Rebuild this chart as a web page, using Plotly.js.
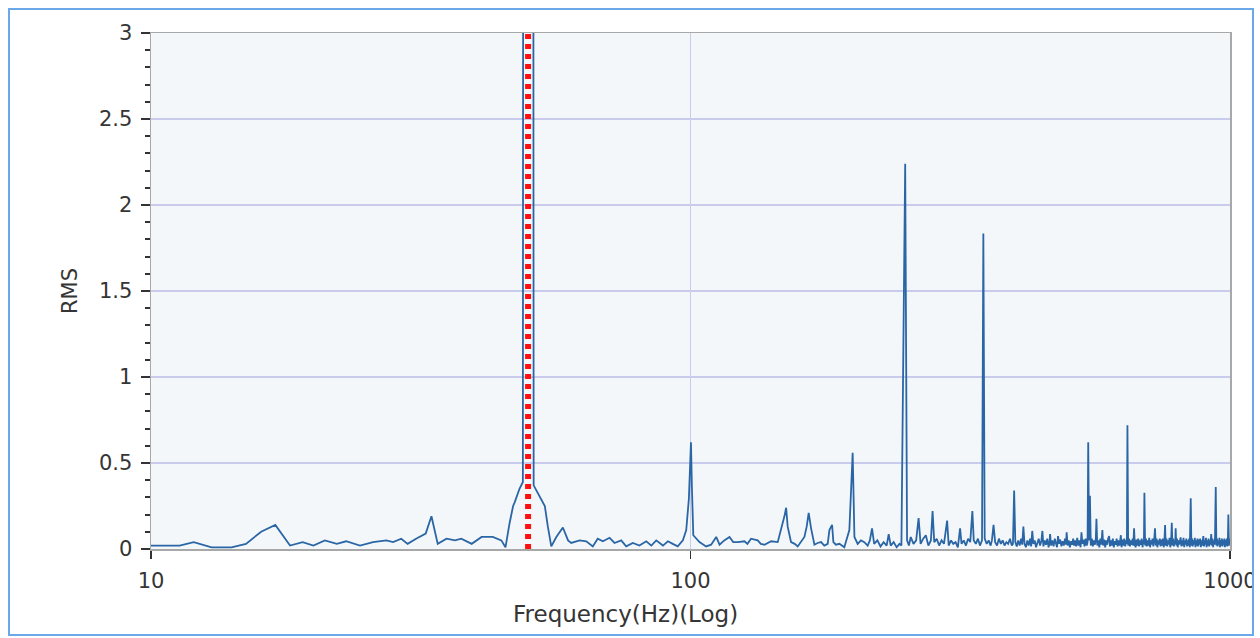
<!DOCTYPE html>
<html>
<head>
<meta charset="utf-8">
<script src="https://cdn.plot.ly/plotly-3.0.1.min.js"></script>
<style>
html,body{margin:0;padding:0;background:#fff;width:1260px;height:638px;overflow:hidden;}
#frame{position:absolute;left:8px;top:8px;width:1246px;height:628px;border:2px solid #6aa8ea;box-sizing:border-box;overflow:hidden;background:#fff;}
#plot{position:absolute;left:-10px;top:-10px;width:1260px;height:638px;}
</style>
</head>
<body>
<div id="frame"><div id="plot"></div></div>
<script>
// Spectrum: [frequency Hz, RMS]
const lowBand = [
[10.0,0.02],[11.3,0.02],[12.0,0.04],[12.95,0.01],[14.1,0.01],[15.0,0.03],[16.0,0.10],[17.0,0.14],[18.1,0.02],[19.1,0.04],
[20.0,0.02],[21.0,0.05],[22.1,0.03],[23.0,0.045],[24.4,0.02],[25.8,0.04],[27.3,0.05],[28.1,0.04],[29.1,0.06],[29.9,0.03],
[31.0,0.06],[32.3,0.09],[33.1,0.19],[34.0,0.03],[35.3,0.06],[36.6,0.05],[37.6,0.06],[39.3,0.03],[41.0,0.07],[43.0,0.07],
[44.6,0.05],[45.4,0.01],[46.2,0.15],[46.9,0.25],[47.2,0.27],[48.2,0.35],[48.9,0.39],[50.0,60],[51.2,0.37],[51.8,0.34],
[52.9,0.29],[53.7,0.25],[54.4,0.13],[55.2,0.015],[56.4,0.07],[58.0,0.125],[59.3,0.05],[60.1,0.035],[62.3,0.05],[64.1,0.045],
[65.9,0.015],[67.3,0.06],[68.8,0.045],[70.8,0.065],[72.3,0.035],[74.4,0.05],[76.0,0.015],[78.2,0.035],[80.4,0.02],[82.8,0.045],
[84.6,0.02],[86.4,0.05],[88.9,0.02],[90.8,0.045],[92.7,0.03],[94.7,0.015],[96.8,0.05],[98.2,0.11],[99.3,0.29],[99.8,0.5]
];
const midBand = [
[100.2,0.62],[100.6,0.36],[101.2,0.08],[103.9,0.04],[106.9,0.015],[109.2,0.025],[111.6,0.07],[113.2,0.025],[115.5,0.05],[118.1,0.07],
[120,0.04],[122.4,0.04],[125.9,0.045],[127.5,0.03],[129.5,0.06],[133.2,0.05],[135,0.03],[137.1,0.025],[141.1,0.045],[145.1,0.04],
[147.2,0.11],[149.3,0.19],[150.4,0.24],[151.4,0.13],[153.6,0.04],[156,0.03],[158.0,0.015],[162.6,0.07],[164.2,0.13],[165.6,0.21],
[167.3,0.12],[169.7,0.025],[172,0.035],[174.6,0.04],[177,0.02],[179.6,0.03],[180.9,0.11],[183.0,0.14],[184.0,0.04],[186,0.025],
[188.8,0.03],[192.8,0.01],[197.0,0.11],[198.4,0.33],[199.8,0.56],[201.3,0.07],[204.1,0.03],[207,0.05],[210,0.04],[213,0.02],
[215,0.05],[217,0.12],[219,0.03],[222,0.05],[225,0.015],[228,0.04],[231,0.02],[233,0.087],[235,0.02],[238,0.04],
[241,0.01],[244,0.03],[246,0.02],[248,1.14],[250,2.24],[252,0.05],[254,0.02],[256,0.07],[259,0.03],[262,0.05],
[264.7,0.18],[267,0.03],[270,0.06],[273,0.08],[276,0.02],[279,0.05],[281,0.22],[283,0.04],[286,0.06],[289,0.02],
[292,0.05],[295,0.03],[299,0.165],[301,0.02],[304,0.05],[307,0.03],[310,0.04],[313,0.01],[316,0.12],[318,0.03],
[321,0.05],[324,0.02],[327,0.06],[330,0.04],[333,0.22],[335,0.05],[338,0.03],[341,0.06],[344,0.02],[347,0.05],
[349,1.835],[351,0.06],[354,0.03],[357,0.05],[360,0.02],[362,0.05],[364.5,0.14],[367,0.04],[370,0.02],[373,0.06],
[376,0.03],[379,0.05],[382,0.02],[385,0.04],[388,0.03],[391,0.06],[394,0.02]
];
const highBand = [
[396,0.03],[398,0.34],[400,0.04],[402.5,0.015],[405,0.05],[407.5,0.02],[410,0.06],[412,0.025],[414,0.13],[416,0.03],
[418.5,0.01],[421,0.05],[423.5,0.02],[426,0.06],[428,0.015],[430,0.105],[432,0.03],[434.5,0.05],[437,0.01],[439.5,0.04],
[442,0.06],[444.5,0.02],[447,0.045],[449,0.105],[451,0.015],[453.5,0.05],[456,0.025],[458.5,0.06],[461,0.01],[463,0.04],
[464,0.087],[466,0.02],[468.5,0.05],[471,0.015],[473.5,0.06],[476,0.03],[478,0.01],[480,0.075],[482,0.03],[484.5,0.055],
[487,0.015],[489.5,0.045],[492,0.02],[494.5,0.06],[496.5,0.025],[498,0.097],[500,0.02],[502.5,0.05],[505,0.01],[507.5,0.045],
[510,0.025],[512,0.06],[514,0.02],[516,0.05],[518.5,0.015],[521,0.065],[523.5,0.02],[526,0.05],[528.5,0.01],[530.5,0.097],
[532.5,0.03],[535,0.055],[537.5,0.015],[540,0.06],[542.5,0.02],[544.5,0.04],[546,0.62],[548,0.05],[550,0.31],[552,0.02],
[554.5,0.06],[557,0.015],[559.5,0.05],[562,0.025],[564,0.06],[565.5,0.175],[567.5,0.02],[570,0.05],[572.5,0.01],[575,0.06],
[577.5,0.025],[580,0.11],[582,0.02],[584.5,0.055],[587,0.01],[589.5,0.05],[592,0.025],[594.5,0.06],[597,0.075],[599,0.015],
[601.5,0.05],[604,0.02],[606.5,0.06],[609,0.01],[611.5,0.045],[614,0.025],[616.5,0.06],[619,0.015],[621.5,0.05],[624,0.02],
[626,0.05],[627.6,0.08],[629.5,0.01],[632,0.055],[634.5,0.02],[637,0.06],[639.5,0.015],[642,0.05],[644,0.03],[645.5,0.72],
[647.5,0.02],[650,0.06],[652.5,0.015],[655,0.05],[657.5,0.025],[660,0.06],[662,0.02],[664,0.12],[666,0.03],[668.5,0.01],
[671,0.055],[673.5,0.02],[676,0.06],[678.5,0.015],[681,0.05],[683.5,0.025],[686,0.06],[688.5,0.01],[691,0.05],[692.5,0.03],
[694,0.327],[696,0.02],[698.5,0.06],[701,0.015],[703.5,0.05],[706,0.02],[708.5,0.065],[711,0.01],[713.5,0.05],[716,0.025],
[718.5,0.06],[721,0.015],[723.5,0.05],[726,0.12],[728.5,0.02],[731,0.06],[733.5,0.01],[736,0.05],[738.5,0.025],[741,0.06],
[743.5,0.015],[746,0.055],[748.5,0.02],[751,0.06],[753.5,0.01],[756,0.05],[758,0.14],[760,0.02],[762.5,0.06],[765,0.015],
[767.5,0.05],[770,0.025],[772.5,0.065],[775,0.01],[778,0.05],[780,0.153],[782,0.02],[784.5,0.06],[787,0.015],[789.5,0.05],
[791.5,0.03],[793,0.12],[795,0.02],[797.5,0.06],[800,0.01],[802.5,0.05],[805,0.025],[807.5,0.06],[810,0.068],[812.5,0.015],
[815,0.05],[817.5,0.02],[820,0.065],[822.5,0.01],[825,0.05],[827.5,0.025],[830,0.06],[832.5,0.015],[835,0.05],[837.5,0.02],
[840,0.06],[842.5,0.01],[845.7,0.295],[848,0.02],[850.5,0.06],[853,0.015],[855.5,0.05],[858,0.025],[860.5,0.065],[863,0.01],
[865.5,0.05],[868,0.02],[870.5,0.06],[873,0.015],[875.5,0.055],[878,0.025],[880.5,0.06],[883,0.01],[885.5,0.05],[888,0.02],
[890.5,0.06],[892.5,0.075],[895,0.015],[897.5,0.05],[900,0.025],[902.5,0.065],[905,0.01],[907.5,0.05],[910,0.02],[912.5,0.06],
[915,0.015],[917.5,0.05],[920,0.025],[923,0.087],[925.5,0.02],[928,0.06],[930.5,0.01],[933,0.05],[935.5,0.025],[938,0.06],
[941,0.36],[943.5,0.02],[946,0.06],[948.5,0.015],[951,0.05],[953.5,0.025],[956,0.065],[958.5,0.01],[961,0.05],[963.5,0.02],
[966,0.06],[968.5,0.015],[971,0.05],[973.5,0.025],[976,0.06],[978.5,0.01],[981,0.05],[983.5,0.02],[986,0.06],[988.5,0.015],
[991,0.05],[993,0.2],[995.5,0.02],[998,0.06],[1000,0.03]
];
// Cursor marker at the fundamental
const cursorFreq = [50, 50];
const cursorRms = [0, 3];

const xTickVals = [10, 100, 1000];
const xTickText = ['10', '100', '1000'];
const yTickVals = [0, 0.5, 1, 1.5, 2, 2.5, 3];
const yTickText = ['0', '0.5', '1', '1.5', '2', '2.5', '3'];

const spectrum = lowBand.concat(midBand, highBand);
const freqHz = spectrum.map(p => p[0]);
const rmsValues = spectrum.map(p => p[1]);

const FONT = 'DejaVu Sans, sans-serif';
const TXT = '#353535';

const traces = [
  {x: freqHz, y: rmsValues, type: 'scatter', mode: 'lines',
   line: {color: '#2a66a6', width: 1.8}, hoverinfo: 'x+y', showlegend: false},
  {x: cursorFreq, y: cursorRms, type: 'scatter', mode: 'lines',
   line: {color: '#ff1010', width: 6, dash: '5px,5px'}, showlegend: false}
];

const layout = {
  width: 1260, height: 638,
  margin: {l: 151, r: 30, t: 33, b: 89, pad: 0},
  paper_bgcolor: '#ffffff',
  plot_bgcolor: '#f4f7f9',
  font: {family: FONT, size: 21, color: TXT},
  showlegend: false,
  xaxis: {
    type: 'log', range: [1, 3],
    tickvals: xTickVals, ticktext: xTickText,
    ticks: 'outside', ticklen: 8, tickwidth: 1.5, tickcolor: '#333',
    ticklabelstandoff: 4,
    showgrid: true, gridcolor: '#c9cbec', gridwidth: 1.2,
    showline: true, linecolor: '#a8a8a8', linewidth: 1.5, mirror: true,
    zeroline: false, tickfont: {family: FONT, size: 21, color: TXT}
  },
  yaxis: {
    range: [0, 3],
    tickvals: yTickVals, ticktext: yTickText,
    ticks: 'outside', ticklen: 9, tickwidth: 2, tickcolor: '#333',
    ticklabelstandoff: 4,
    minor: {dtick: 0.1, ticks: 'outside', ticklen: 5, tickwidth: 2, tickcolor: '#333', showgrid: false},
    showgrid: true, gridcolor: '#c9cbec', gridwidth: 1.2,
    showline: true, linecolor: '#a8a8a8', linewidth: 1.5, mirror: true,
    zeroline: false, tickfont: {family: FONT, size: 21, color: TXT}
  },
  annotations: [
    {text: 'Frequency(Hz)(Log)', xref: 'paper', yref: 'paper', x: 0.4402, y: -0.126,
     xanchor: 'center', yanchor: 'middle', showarrow: false,
     font: {family: FONT, size: 23, color: TXT}},
    {text: 'RMS', xref: 'paper', yref: 'paper', x: -0.0751, y: 0.5, textangle: -90,
     xanchor: 'center', yanchor: 'middle', showarrow: false,
     font: {family: FONT, size: 21, color: TXT}}
  ]
};

Plotly.newPlot('plot', traces, layout, {displayModeBar: false, staticPlot: true});
</script>
</body>
</html>
